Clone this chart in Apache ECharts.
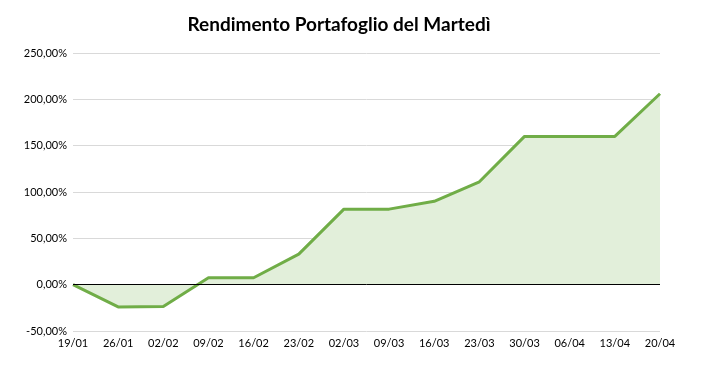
<!DOCTYPE html>
<html><head><meta charset="utf-8">
<script src="https://cdn.jsdelivr.net/npm/echarts@6/dist/echarts.min.js"></script>
<style>html,body{margin:0;padding:0;background:#fff}#c{width:702px;height:373px}</style>
</head><body><div id="c"></div>
<script>
const titleText = "Rendimento Portafoglio del Martedì";
const categories = ["19/01","26/01","02/02","09/02","16/02","23/02","02/03","09/03","16/03","23/03","30/03","06/04","13/04","20/04"];
const returns = [0, -24, -23.5, 7.5, 7.5, 33, 81.5, 81.5, 90, 111, 160, 160, 160, 206];
const yTicks = { min: -50, max: 250, interval: 50 };

const chart = echarts.init(document.getElementById('c'));
chart.setOption({
  animation: false,
  title: { text: titleText, left: 334, top: 10, textAlign: 'center',
    textStyle: { fontFamily: 'Lato', fontSize: 19, fontWeight: 'bold', color: '#000' } },
  grid: { left: 73, right: 42, top: 53, bottom: 42 },
  xAxis: { type: 'category', data: categories, boundaryGap: false,
    axisLine: { show: false, onZero: false }, axisTick: { show: false },
    axisLabel: { color: '#000', fontFamily: 'Lato', fontSize: 11, margin: 7, interval: 0 } },
  yAxis: { type: 'value', min: yTicks.min, max: yTicks.max, interval: yTicks.interval,
    axisLine: { show: false }, axisTick: { show: false },
    splitLine: { lineStyle: { color: '#d9d9d9', width: 1 } },
    axisLabel: { color: '#000', fontFamily: 'Lato', fontSize: 11, margin: 6,
      formatter: v => v.toFixed(2).replace('.', ',') + '%' } },
  series: [{
    type: 'line', data: returns, symbol: 'none',
    lineStyle: { color: '#70AD47', width: 3 },
    areaStyle: { color: '#E2EFDA', opacity: 1 },
    z: 3,
    markLine: { silent: true, symbol: 'none', label: { show: false },
      lineStyle: { color: '#000', width: 1, type: 'solid' },
      data: [{ yAxis: 0 }] }
  }]
});
</script></body></html>
